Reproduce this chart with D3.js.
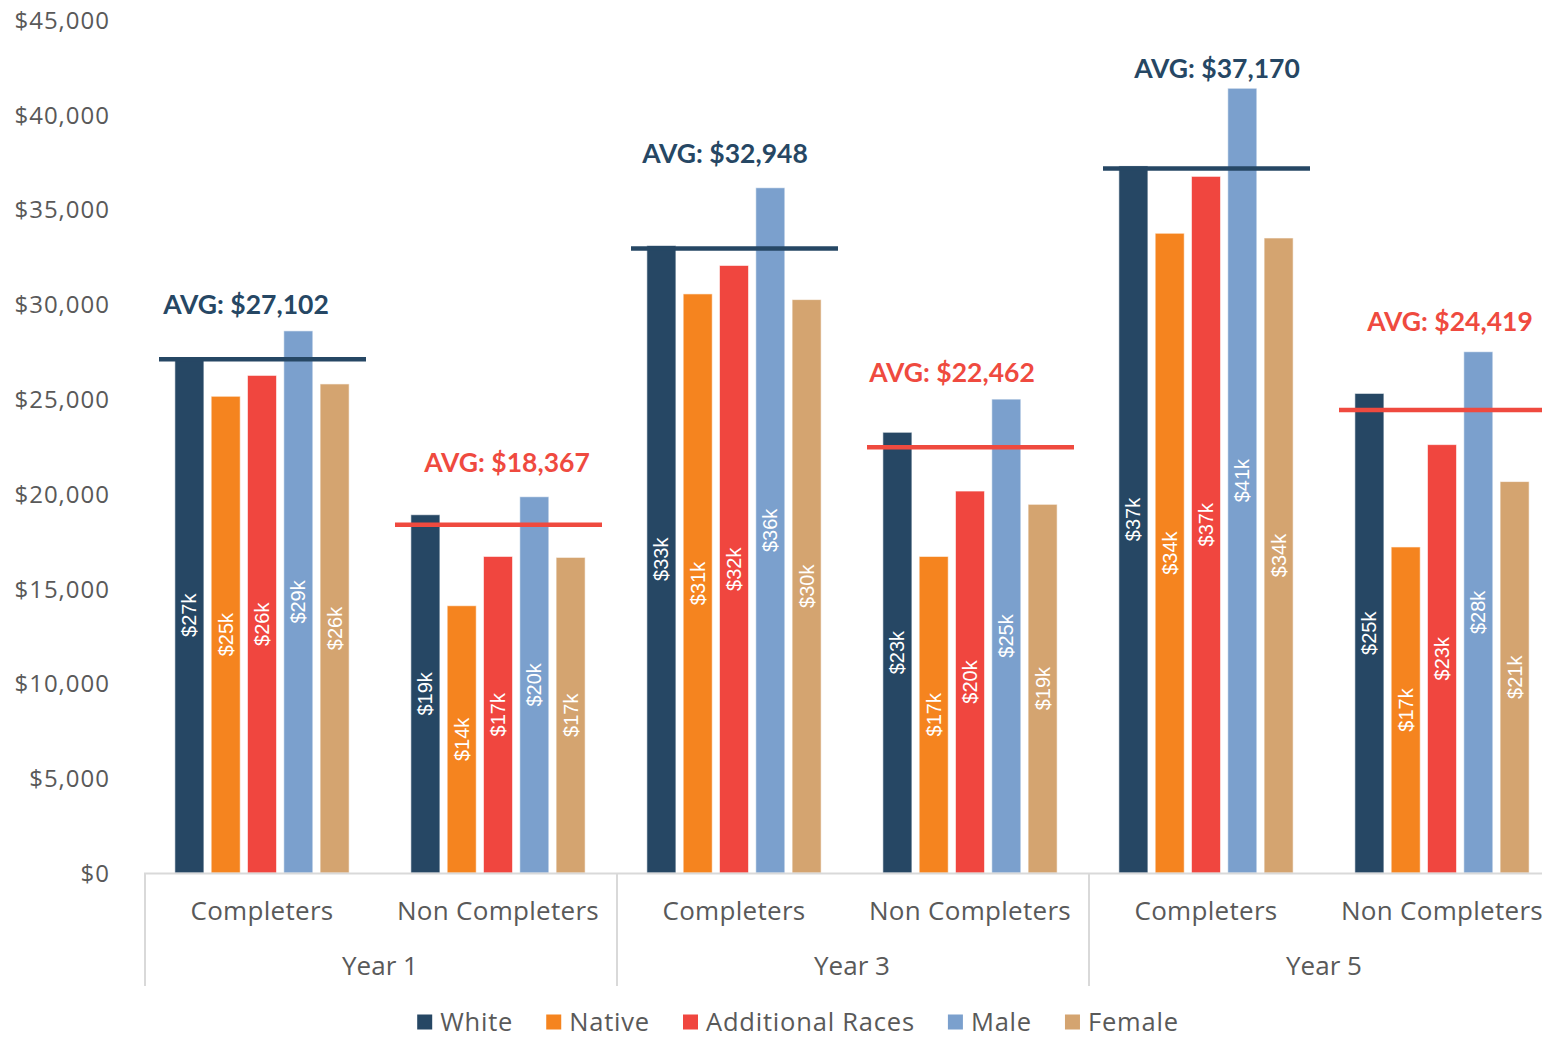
<!DOCTYPE html>
<html>
<head>
<meta charset="utf-8">
<script src="https://cdn.jsdelivr.net/npm/d3@7"></script>
<style>
  html, body { margin: 0; padding: 0; background: #fff; overflow: hidden; }
  svg { display: block; }
</style>
</head>
<body>
<svg id="chart" width="1542" height="1037"></svg>
<script>
// Earnings by cohort, split by completion status and demographic group
const years = ["Year 1", "Year 3", "Year 5"];
const statuses = ["Completers", "Non Completers"];
const series = ["White", "Native", "Additional Races", "Male", "Female"];

// One row per (year, status) in the order Year1-C, Year1-N, Year3-C, Year3-N, Year5-C, Year5-N
const whiteVals  = [27200, 18900, 33100, 23250, 37300, 25300];
const nativeVals = [25150, 14100, 30550, 16700, 33750, 17200];
const addlVals   = [26250, 16700, 32050, 20150, 36750, 22600];
const maleVals   = [28600, 19850, 36150, 25000, 41400, 27500];
const femaleVals = [25800, 16650, 30250, 19450, 33500, 20650];
const avgVals    = [27102, 18367, 32948, 22462, 37170, 24419];

const yTicks = [0, 5000, 10000, 15000, 20000, 25000, 30000, 35000, 40000, 45000];

const colors = ["#264764", "#F5841F", "#F0463F", "#7BA0CD", "#D4A470"];
const avgColors = { "Completers": "#264764", "Non Completers": "#EF4A3F" };

const valuesBySeries = [whiteVals, nativeVals, addlVals, maleVals, femaleVals];

const groups = [];
years.forEach((yr, i) => statuses.forEach((st, j) => {
  const k = i * 2 + j;
  groups.push({
    key: yr + "|" + st, year: yr, status: st, avg: avgVals[k],
    bars: series.map((s, si) => ({ series: s, idx: si, value: valuesBySeries[si][k] }))
  });
}));

const svg = d3.select("#chart");
const axisFont = "'Open Sans', 'Noto Sans', sans-serif";
const textGrey = "#595959";

const y = d3.scaleLinear().domain([0, 45000]).range([873, 20]);
const x0 = d3.scaleBand().domain(groups.map(g => g.key)).range([144, 1560]);
const x1 = d3.scaleBand().domain(series).range([0, x0.bandwidth()])
  .paddingInner(0.2).paddingOuter(0.85);

// Y axis labels (no line, no gridlines)
const yAxis = d3.axisLeft(y).tickValues(yTicks)
  .tickFormat(d => "$" + d3.format(",")(d)).tickSize(0).tickPadding(0);
const yg = svg.append("g").attr("transform", "translate(110,0)").call(yAxis);
yg.select(".domain").remove();
yg.selectAll("text").attr("font-family", axisFont).attr("font-size", 24)
  .attr("letter-spacing", 1)
  .attr("fill", textGrey).attr("dy", "0.35em");

// Bars
const gSel = svg.append("g").selectAll("g").data(groups).join("g")
  .attr("transform", d => `translate(${x0(d.key)},0)`);

gSel.selectAll("rect").data(d => d.bars).join("rect")
  .attr("x", d => x1(d.series))
  .attr("width", x1.bandwidth())
  .attr("y", d => y(d.value))
  .attr("height", d => y(0) - y(d.value))
  .attr("fill", d => colors[d.idx])
  .attr("stroke", "rgba(255,255,255,0.6)")
  .attr("stroke-width", 1);

// Value labels, rotated inside each bar
gSel.selectAll("text.val").data(d => d.bars).join("text")
  .attr("class", "val")
  .attr("transform", d => `translate(${x1(d.series) + x1.bandwidth() / 2},${(y(d.value) + y(0)) / 2}) rotate(-90)`)
  .attr("text-anchor", "middle").attr("dy", "0.35em")
  .attr("font-family", "'Liberation Sans', Arial, sans-serif")
  .attr("font-size", 20).attr("fill", "#fff")
  .text(d => "$" + Math.round(d.value / 1000) + "k");

// Average lines
gSel.append("line")
  .attr("x1", x0.bandwidth() / 2 - 103).attr("x2", x0.bandwidth() / 2 + 104)
  .attr("y1", d => y(d.avg)).attr("y2", d => y(d.avg))
  .attr("stroke", d => avgColors[d.status]).attr("stroke-width", 4.5);

// Average labels above the tallest bar of each cluster
const labelNudgeX = [-16, 9, -9, -18, 11, 8];
const labelNudgeY = [1, -7, -7, 1, 7, -3];
gSel.append("text")
  .attr("x", (d, i) => x0.bandwidth() / 2 + labelNudgeX[i])
  .attr("y", (d, i) => y(d3.max(d.bars, b => b.value)) - 27 + labelNudgeY[i])
  .attr("dy", "0.35em")
  .attr("text-anchor", "middle")
  .attr("font-family", "Lato, 'Open Sans', sans-serif")
  .attr("font-weight", 700).attr("font-size", 26.5)
  .attr("fill", d => avgColors[d.status])
  .text(d => "AVG: $" + d3.format(",")(d.avg));

// Category axis
const axisColor = "#D9D9D9";
svg.append("line").attr("x1", 144).attr("x2", 1560)
  .attr("y1", y(0) + 0.5).attr("y2", y(0) + 0.5)
  .attr("stroke", axisColor).attr("stroke-width", 2);

const yearScale = d3.scaleBand().domain(years).range([144, 1560]);
svg.append("g").selectAll("line").data(years).join("line")
  .attr("x1", d => yearScale(d) + 1).attr("x2", d => yearScale(d) + 1)
  .attr("y1", y(0)).attr("y2", 986)
  .attr("stroke", axisColor).attr("stroke-width", 2);

svg.append("g").selectAll("text").data(groups).join("text")
  .attr("x", d => x0(d.key) + x0.bandwidth() / 2)
  .attr("y", 911).attr("dy", "0.35em").attr("text-anchor", "middle")
  .attr("font-family", axisFont).attr("font-size", 26).attr("fill", textGrey)
  .attr("letter-spacing", 0.3)
  .text(d => d.status);

svg.append("g").selectAll("text").data(years).join("text")
  .attr("x", d => yearScale(d) + yearScale.bandwidth() / 2 + 0)
  .attr("y", 966).attr("dy", "0.35em").attr("text-anchor", "middle")
  .attr("font-family", axisFont).attr("font-size", 26).attr("fill", textGrey)
  .text(d => d);

// Legend, centred under the plot
const legend = svg.append("g");
const items = legend.selectAll("g").data(series).join("g");
items.append("rect").attr("width", 15).attr("height", 15).attr("y", -7.5)
  .attr("fill", (d, i) => colors[i]);
items.append("text").attr("x", 23).attr("dy", "0.35em")
  .attr("font-family", axisFont).attr("font-size", 25.5).attr("fill", textGrey)
  .attr("letter-spacing", 0.8)
  .text(d => d);
let cursor = 0;
items.each(function () {
  const w = this.querySelector("text").getComputedTextLength();
  d3.select(this).attr("transform", `translate(${cursor},0)`);
  cursor += 23 + w + 33;
});
const total = cursor - 33;
legend.attr("transform", `translate(${798 - total / 2},1022)`);
</script>
</body>
</html>
